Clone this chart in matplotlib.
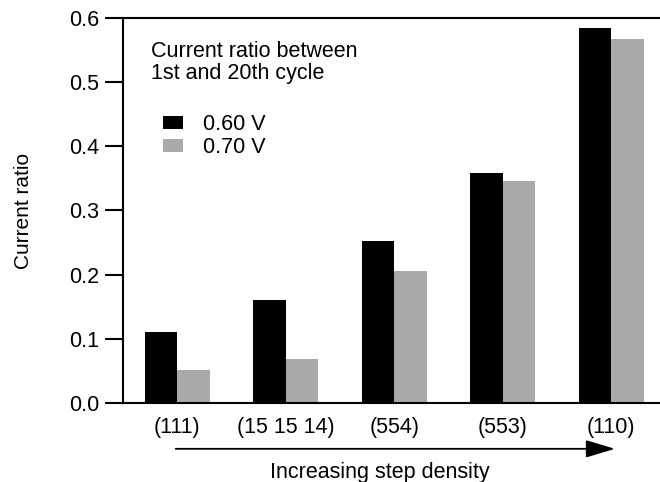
import numpy as np
import matplotlib
matplotlib.use('Agg')
import matplotlib.pyplot as plt

plt.rcParams['font.family'] = ['Liberation Sans', 'DejaVu Sans']

# Surfaces ordered by step density
surfaces = ['(111)', '(15 15 14)', '(554)', '(553)', '(110)']
ratio_060 = [0.111, 0.160, 0.252, 0.358, 0.585]
ratio_070 = [0.051, 0.068, 0.206, 0.346, 0.567]

fs = 15.5
fig = plt.figure(figsize=(6.6, 4.82), dpi=100)
ax = fig.add_axes([123/660, 79/482, 537/660, 385/482])

x = np.arange(len(surfaces))
w = 0.3
ax.bar(x - w/2, ratio_060, w, color='black', label='0.60 V')
ax.bar(x + w/2, ratio_070, w, color='#a9a9a9', label='0.70 V')

ax.set_xlim(-0.5, 4.45)
ax.set_ylim(0, 0.6)
ax.set_yticks(np.arange(0, 0.61, 0.1))
ax.set_yticklabels(['%.1f' % v for v in np.arange(0, 0.61, 0.1)])
ax.set_xticks(x)
ax.set_xticklabels(surfaces)

for s in ['left', 'top', 'bottom']:
    ax.spines[s].set_linewidth(1.5)
ax.spines['right'].set_visible(False)
ax.tick_params(axis='y', direction='out', length=13, width=1.5, labelsize=fs, pad=4)
ax.tick_params(axis='x', length=0, labelsize=fs, pad=10)
ax.set_ylabel('Current ratio', fontsize=15, labelpad=26)

ax.text(0.052, 0.94, 'Current ratio between\n1st and 20th cycle',
        transform=ax.transAxes, ha='left', va='top', fontsize=fs, linespacing=1.05)
ax.legend(loc='upper left', bbox_to_anchor=(0.0745, 0.75), frameon=False,
          fontsize=fs, borderpad=0, borderaxespad=0, handlelength=0.93,
          handleheight=0.56, handletextpad=0.93, labelspacing=0.1)

# arrow under the category labels
ax.annotate('', xy=(4.06, -0.119), xytext=(-0.04, -0.119),
            xycoords=('data', 'axes fraction'), textcoords=('data', 'axes fraction'),
            arrowprops=dict(arrowstyle='-|>,head_length=1.0,head_width=0.3',
                            mutation_scale=18, color='black', lw=1.3),
            annotation_clip=False)
ax.text(1.87, -0.18, 'Increasing step density', transform=ax.get_xaxis_transform(),
        ha='center', va='center', fontsize=fs)

fig.savefig('out.png', dpi=100)
